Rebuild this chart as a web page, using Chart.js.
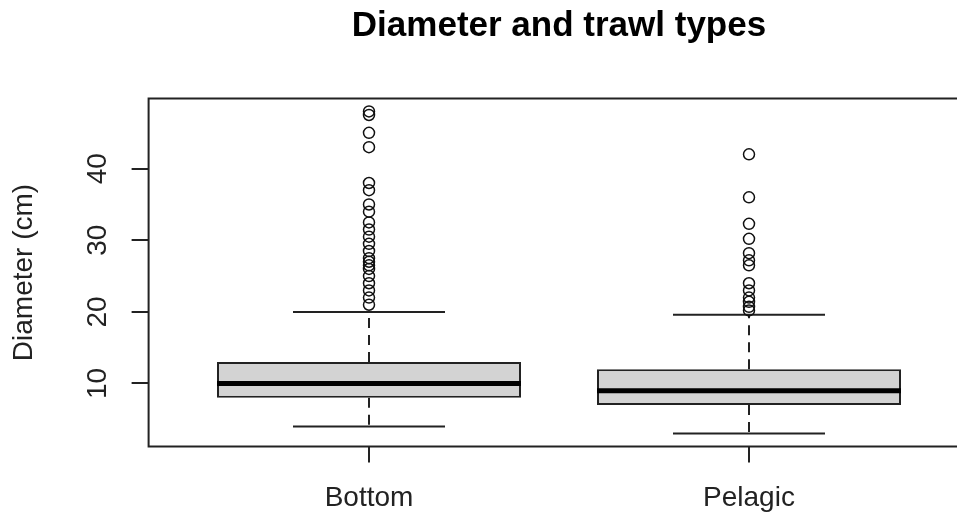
<!DOCTYPE html>
<html>
<head>
<meta charset="utf-8">
<script src="https://cdn.jsdelivr.net/npm/chart.js@4"></script>
<style>
  body { margin: 0; overflow: hidden; background: #fff; }
  #wrap { width: 990px; height: 519px; }
</style>
</head>
<body>
<div id="wrap"><canvas id="boxChart"></canvas></div>
<script>
// Datos
const categories = ['Bottom', 'Pelagic'];
const lowWhisker = [4, 3];
const q1 = [8, 7];
const medians = [10, 9];
const q3 = [13, 12];
const highWhisker = [20, 19.6];
const outliersBottom = [21, 22, 23, 24, 25, 26, 26.5, 27, 27.5, 28.5, 29.5, 30.5, 31.5, 32.5, 34, 35, 37, 38, 43, 45, 47.5, 48];
const outliersPelagic = [20.2, 20.7, 21.4, 22, 23, 24, 26.5, 27.2, 28.2, 30.2, 32.3, 36, 42];
const yTicks = [10, 20, 30, 40];

const FONT = "'Liberation Sans', Arial, sans-serif";
const BOX_HALF = 0.4;
const CAP_HALF = 0.2;

// segmentos con hueco entre cada caja
function segmentos(fn) {
    const pts = [];
    categories.forEach((c, i) => {
        fn(i + 1, i).forEach(p => pts.push(p));
        pts.push({ x: i + 1, y: null });
    });
    return pts;
}

const boxes = categories.map((c, i) => ({ x: i + 1, y: [q1[i], q3[i]] }));
const medianPts = segmentos((x, i) => [{ x: x - BOX_HALF, y: medians[i] }, { x: x + BOX_HALF, y: medians[i] }]);
const capPts = segmentos((x, i) => [
    { x: x - CAP_HALF, y: highWhisker[i] }, { x: x + CAP_HALF, y: highWhisker[i] }, { x: x, y: null },
    { x: x - CAP_HALF, y: lowWhisker[i] }, { x: x + CAP_HALF, y: lowWhisker[i] }
]);
const whiskerPts = segmentos((x, i) => [
    { x: x, y: q3[i] }, { x: x, y: highWhisker[i] }, { x: x, y: null },
    { x: x, y: q1[i] }, { x: x, y: lowWhisker[i] }
]);
const outlierPts = [
    ...outliersBottom.map(v => ({ x: 1, y: v })),
    ...outliersPelagic.map(v => ({ x: 2, y: v }))
];

// marco del grafico y etiquetas verticales del eje Y
const marcoPlugin = {
    id: 'marco',
    afterDraw(chart) {
        const { ctx, chartArea: a } = chart;
        ctx.save();
        ctx.strokeStyle = '#222';
        ctx.lineWidth = 2;
        ctx.strokeRect(a.left, a.top, a.right - a.left, a.bottom - a.top);
        const y = chart.scales.y;
        ctx.fillStyle = '#222';
        ctx.font = '28px ' + FONT;
        ctx.textAlign = 'center';
        ctx.textBaseline = 'alphabetic';
        yTicks.forEach(v => {
            ctx.save();
            ctx.translate(106, y.getPixelForValue(v));
            ctx.rotate(-Math.PI / 2);
            ctx.fillText(String(v), 0, 0);
            ctx.restore();
        });
        ctx.restore();
    }
};

function generarBoxplot() {
    const ctx = document.getElementById('boxChart').getContext('2d');
    new Chart(ctx, {
        type: 'scatter',
        data: {
            datasets: [
                {
                    type: 'bar',
                    data: boxes,
                    backgroundColor: '#d3d3d3',
                    borderColor: '#222',
                    borderWidth: 2,
                    borderSkipped: false,
                    barPercentage: 0.8,
                    categoryPercentage: 1,
                    order: 4
                },
                {
                    type: 'line',
                    data: whiskerPts,
                    borderColor: '#222',
                    borderWidth: 2,
                    borderDash: [10, 7],
                    pointRadius: 0,
                    spanGaps: false,
                    order: 3
                },
                {
                    type: 'line',
                    data: capPts,
                    borderColor: '#222',
                    borderWidth: 2,
                    pointRadius: 0,
                    spanGaps: false,
                    order: 2
                },
                {
                    type: 'line',
                    data: medianPts,
                    borderColor: '#000',
                    borderWidth: 5,
                    borderCapStyle: 'butt',
                    pointRadius: 0,
                    spanGaps: false,
                    order: 1
                },
                {
                    type: 'scatter',
                    data: outlierPts,
                    pointStyle: 'circle',
                    pointRadius: 5.5,
                    borderWidth: 1.5,
                    borderColor: '#111',
                    backgroundColor: 'rgba(0,0,0,0)',
                    order: 0
                }
            ]
        },
        options: {
            responsive: true,
            maintainAspectRatio: false,
            animation: false,
            layout: { padding: { left: 0, right: 20.6, top: 0, bottom: 0 } },
            plugins: {
                legend: { display: false },
                tooltip: { enabled: false },
                title: {
                    display: true,
                    text: 'Diameter and trawl types',
                    fullSize: false,
                    color: '#000',
                    font: { family: FONT, size: 35, weight: 'bold', lineHeight: 1.2 },
                    padding: { top: 5, bottom: 51.5 }
                }
            },
            scales: {
                x: {
                    type: 'linear',
                    min: 0.42,
                    max: 2.58,
                    offset: false,
                    afterBuildTicks: s => { s.ticks = categories.map((c, i) => ({ value: i + 1 })); },
                    afterFit: s => { s.height = 72.5; },
                    ticks: {
                        callback: v => categories[v - 1],
                        color: '#222',
                        padding: 19,
                        font: { family: FONT, size: 28 }
                    },
                    grid: { offset: false, drawOnChartArea: false, drawTicks: true, tickLength: 16, color: '#222', lineWidth: 2 },
                    border: { display: false }
                },
                y: {
                    min: 1.2,
                    max: 49.8,
                    afterBuildTicks: s => { s.ticks = yTicks.map(v => ({ value: v })); },
                    afterFit: s => { s.width = 148.6; },
                    ticks: { display: false },
                    grid: { drawOnChartArea: false, drawTicks: true, tickLength: 17, color: '#222', lineWidth: 2 },
                    border: { display: false },
                    title: {
                        display: true,
                        text: 'Diameter (cm)',
                        color: '#222',
                        font: { family: FONT, size: 28 },
                        padding: { top: 7, bottom: 0 }
                    }
                }
            }
        },
        plugins: [marcoPlugin]
    });
}

window.onload = generarBoxplot;
</script>
</body>
</html>
